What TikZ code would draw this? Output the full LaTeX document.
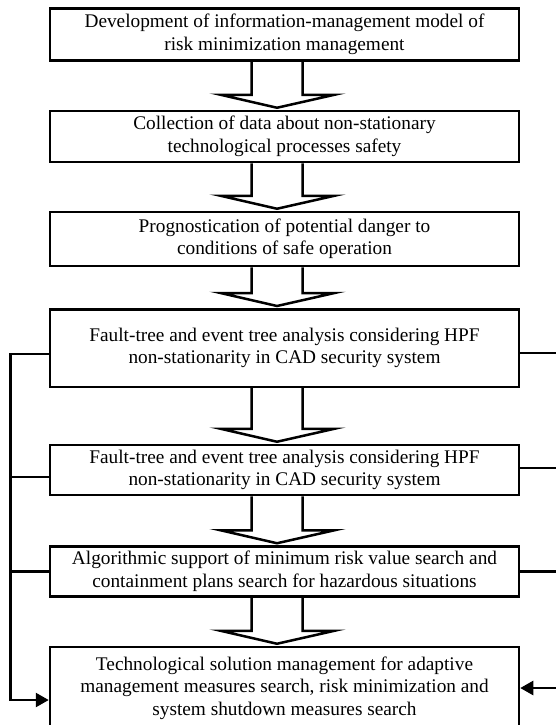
\documentclass[tikz,border=0pt]{standalone}
\usepackage{fontspec}
\setmainfont{Liberation Serif}
\usepackage{tikz}
\usetikzlibrary{arrows.meta, positioning, calc}
\tikzset{
  step box/.style={draw=black, line width=2.5pt, minimum width=469pt, inner sep=0pt, align=center,
    font=\fontsize{19.3}{22.5}\selectfont},
  block arrow/.style={line width=2.5pt, line join=miter},
  feedback/.style={line width=2.5pt},
  feedback tip/.style={-{Triangle[length=13pt, width=14pt]}}
}

\begin{document}
\begin{tikzpicture}[x=1pt, y=-1pt]
  \useasboundingbox (0,0) rectangle (556,725);

  % --- Steps of the procedure ---
  \node[step box, minimum height=52pt] (b1) at (284.5,34.5) {Development of information-management model of\\risk minimization management};
  \node[step box, minimum height=51pt] (b2) at (284.5,136.5) {Collection of data about non-stationary\\technological processes safety};
  \node[step box, minimum height=54pt] (b3) at (284.5,239) {Prognostication of potential danger to\\conditions of safe operation};
  \node[step box, minimum height=77.5pt] (b4) at (284.5,348) {Fault-tree and event tree analysis considering HPF\\non-stationarity in CAD security system};
  \node[step box, minimum height=50pt] (b5) at (284.5,470) {Fault-tree and event tree analysis considering HPF\\non-stationarity in CAD security system};
  \node[step box, minimum height=50pt] (b6) at (284.5,571.5) {Algorithmic support of minimum risk value search and\\containment plans search for hazardous situations};
  \node[step box, minimum height=82pt] (b7) at (284.5,688) {Technological solution management for adaptive\\management measures search, risk minimization and\\system shutdown measures search};

  % --- Hollow arrows between the steps ---
  \foreach \from/\to in {b1/b2, b2/b3, b3/b4, b4/b5, b5/b6, b6/b7} {
    \draw[block arrow] ($(\from.south)+(-33,0)$) -- ($(\to.north)+(-33,-15)$)
      -- ($(\to.north)+(-64,-15)$) -- ($(\to.north)+(-7.5,-2)$) -- ($(\to.north)+(50,-15)$)
      -- ($(\to.north)+(18,-15)$) -- ($(\from.south)+(18,0)$);
  }

  % --- Feedback lines, left side ---
  \coordinate (left rail) at ($(b7.west)+(-38.3,12)$);
  \draw[feedback, feedback tip] ($(b4.west)+(0,6)$) -| (left rail) -- ($(b7.west)+(0,12)$);
  \draw[feedback] ($(b5.west)+(0,7)$) -- ($(b5.west -| left rail)+(0,7)$);
  \draw[feedback] (b6.west) -- (b6.west -| left rail);

  % --- Feedback lines, right side ---
  \coordinate (right rail) at ($(b7.east)+(43,0)$);
  \draw[feedback, feedback tip] ($(b4.east)+(0,5)$) -| (right rail) -- (b7.east);
  \draw[feedback] ($(b5.east)+(0,-2)$) -- ($(b5.east -| right rail)+(0,-2)$);
  \draw[feedback] (b6.east) -- (b6.east -| right rail);
\end{tikzpicture}
\end{document}
